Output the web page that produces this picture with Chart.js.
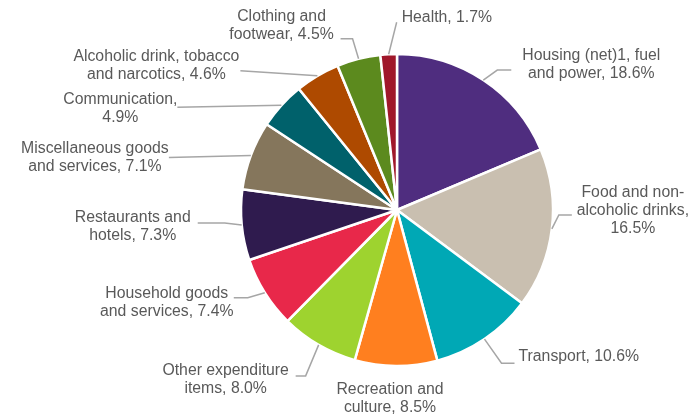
<!DOCTYPE html>
<html>
<head>
<meta charset="utf-8">
<script src="https://cdn.jsdelivr.net/npm/chart.js@4/dist/chart.umd.min.js"></script>
<style>
html,body{margin:0;padding:0;background:#fff;}
#wrap{width:696px;height:416px;position:relative;}
</style>
</head>
<body>
<div id="wrap"><canvas id="c" width="696" height="416"></canvas></div>
<script>
// ---- data ----
const categories = [
  "Housing (net)1, fuel and power",
  "Food and non-alcoholic drinks",
  "Transport",
  "Recreation and culture",
  "Other expenditure items",
  "Household goods and services",
  "Restaurants and hotels",
  "Miscellaneous goods and services",
  "Communication",
  "Alcoholic drink, tobacco and narcotics",
  "Clothing and footwear",
  "Health"
];
const shares = [18.6, 16.5, 10.6, 8.5, 8.0, 7.4, 7.3, 7.1, 4.9, 4.6, 4.5, 1.7];
const labelLines = [
  ["Housing (net)1, fuel", "and power, 18.6%"],
  ["Food and non-", "alcoholic drinks,", "16.5%"],
  ["Transport, 10.6%"],
  ["Recreation and", "culture, 8.5%"],
  ["Other expenditure", "items, 8.0%"],
  ["Household goods", "and services, 7.4%"],
  ["Restaurants and", "hotels, 7.3%"],
  ["Miscellaneous goods", "and services, 7.1%"],
  ["Communication,", "4.9%"],
  ["Alcoholic drink, tobacco", "and narcotics, 4.6%"],
  ["Clothing and", "footwear, 4.5%"],
  ["Health, 1.7%"]
];
const colors = ["#4F2D7F","#C9BFB0","#00A8B5","#FF7F1F","#9ED32F","#E8284A",
                "#2F1B4E","#85765C","#00616B","#AE4A00","#5C8A1E","#A0182B"];

// ---- label layout (offsets relative to the slice's rim point) ----
const labelLayout = [
  {pts:[[14,-10],[28,-10]], text:[108,-24], align:"center"},
  {pts:[[7,-14],[20,-14]],  text:[81,-36],  align:"center"},
  {pts:[[17,24],[30,24]],   text:[34,18],   align:"left"},
  {pts:[],                  text:[-6,24],   align:"center"},
  {pts:[[-13,31],[-23,31]], text:[-93,26],  align:"center"},
  {pts:[[-17,5],[-31,5]],   text:[-98,1],   align:"center"},
  {pts:[[-17,-2],[-44,-2]], text:[-109,-7], align:"center"},
  {pts:[[-82,2]],           text:[-156,-7], align:"center"},
  {pts:[[-104,2]],          text:[-161,-6], align:"center"},
  {pts:[[-77,-5]],          text:[-161,-19],align:"center"},
  {pts:[[-6,-20],[-18,-20]],text:[-77,-42], align:"center"},
  {pts:[[8,-32]],           text:[13,-37],  align:"left"}
];

const labelPlugin = {
  id: "pieLabels",
  afterDraw(chart) {
    const ctx = chart.ctx;
    const meta = chart.getDatasetMeta(0);
    ctx.save();
    ctx.font = '15.8px "Liberation Sans", Arial, sans-serif';
    ctx.textBaseline = "middle";
    meta.data.forEach((arc, i) => {
      const p = arc.getProps(["x","y","startAngle","endAngle","outerRadius"], true);
      const mid = (p.startAngle + p.endAngle) / 2;
      const rx = p.x + Math.cos(mid) * p.outerRadius;
      const ry = p.y + Math.sin(mid) * p.outerRadius;
      const L = labelLayout[i];
      if (L.pts.length) {
        ctx.strokeStyle = "#A6A6A6";
        ctx.lineWidth = 1.5;
        ctx.beginPath();
        ctx.moveTo(rx, ry);
        L.pts.forEach(q => ctx.lineTo(rx + q[0], ry + q[1]));
        ctx.stroke();
      }
      ctx.fillStyle = "#595959";
      ctx.textAlign = L.align;
      labelLines[i].forEach((t, k) => {
        ctx.fillText(t, rx + L.text[0], ry + L.text[1] + k * 18);
      });
    });
    ctx.restore();
  }
};

new Chart(document.getElementById("c"), {
  type: "pie",
  data: {
    labels: categories,
    datasets: [{
      data: shares,
      backgroundColor: colors,
      borderColor: "#ffffff",
      borderWidth: 2.5
    }]
  },
  options: {
    responsive: false,
    animation: false,
    radius: 156,
    layout: {padding: {left: 130, right: 32, top: 30, bottom: 26}},
    plugins: {legend: {display: false}, tooltip: {enabled: false}}
  },
  plugins: [labelPlugin]
});
</script>
</body>
</html>
